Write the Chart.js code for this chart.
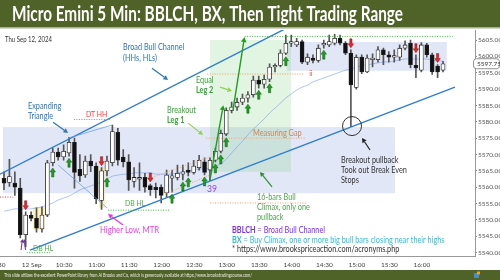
<!DOCTYPE html>
<html>
<head>
<meta charset="utf-8">
<script src="https://cdn.jsdelivr.net/npm/chart.js@4.4.1/dist/chart.umd.min.js"></script>
<style>
  html, body { margin: 0; padding: 0; background: #fff; }
  #wrap { width: 500px; height: 280px; }
</style>
</head>
<body>
<div id="wrap"><canvas id="chart" width="500" height="280"></canvas></div>
<script>
// 5 min bars, 9:30 .. 16:15
const opens = [5562.75, 5561.5, 5561.25, 5559.75, 5545.5, 5551.5, 5550.5, 5547.25, 5551.5, 5567.5,
  5570.75, 5569.25, 5570.5, 5573.75, 5565.5, 5563.75, 5568, 5566.5, 5556, 5565,
  5567.5, 5576.75, 5569.25, 5567.75, 5561.75, 5562.5, 5563, 5560.5, 5560, 5560,
  5558.25, 5562.75, 5563, 5564, 5565.25, 5564.5, 5566, 5567.75, 5565.25, 5568.25,
  5571, 5576.25, 5583.5, 5584.5, 5586, 5587.25, 5588.25, 5592.75, 5591.5, 5593,
  5596.75, 5597.25, 5601, 5604, 5603.5, 5604.5, 5598.25, 5599.5, 5598.75, 5603.5,
  5603.5, 5604, 5605.5, 5604, 5601, 5590.5, 5599.75, 5595.25, 5599, 5599,
  5602, 5600.5, 5599.75, 5599.75, 5602.5, 5604, 5597.25, 5595.75, 5603.5, 5600.5,
  5597, 5595.75];
const highs = [5564.75, 5568.5, 5564.75, 5562.75, 5552.5, 5552.5, 5553.75, 5554, 5568.25, 5572,
  5572, 5573, 5575.25, 5575, 5570, 5569.5, 5570, 5567.5, 5566, 5569.5,
  5579, 5578, 5571.5, 5570, 5566, 5567.5, 5564.25, 5561, 5561.25, 5560.75,
  5565.25, 5565.25, 5566.75, 5566.75, 5567.5, 5568.25, 5569.75, 5569, 5569, 5572,
  5577.5, 5584.25, 5586, 5587.25, 5588.5, 5589.25, 5594, 5594, 5594.25, 5597.75,
  5597.75, 5602, 5606.5, 5606.5, 5605.5, 5605, 5600.75, 5600.5, 5603.5, 5605,
  5606.5, 5606.75, 5606.5, 5604.5, 5602, 5600.5, 5600.5, 5600.5, 5600.75, 5603,
  5602.5, 5601.5, 5602, 5603.5, 5604.75, 5605, 5600.5, 5604.25, 5604, 5601,
  5597.5, 5598.5];
const lows = [5559.25, 5560.25, 5557.5, 5544.5, 5541.75, 5549.75, 5546.25, 5546.25, 5551, 5566.5,
  5568.25, 5568.25, 5569.5, 5559.75, 5561.75, 5563, 5564.75, 5555, 5553.25, 5563.5,
  5566.5, 5566.75, 5566.25, 5559, 5560, 5559, 5558.5, 5557.5, 5556.75, 5555.25,
  5557, 5558.5, 5562.25, 5562.25, 5563.5, 5564, 5565.25, 5563.75, 5562, 5567.75,
  5570.5, 5575.75, 5582.75, 5583.5, 5585.25, 5586, 5587.5, 5590.25, 5590.25, 5592.25,
  5595.25, 5596.75, 5600.5, 5603, 5603, 5597.75, 5597.5, 5598, 5598.25, 5602.5,
  5603, 5603.5, 5603.5, 5600.5, 5578.5, 5590, 5594.75, 5595, 5596.75, 5598.25,
  5597.5, 5598.25, 5598.25, 5598.75, 5602, 5596.5, 5593.5, 5595.25, 5599.75, 5594.5,
  5593.5, 5595.25];
const closes = [5561.25, 5563.25, 5560, 5545.5, 5551.5, 5550.5, 5547.5, 5551.5, 5567.5, 5570.75,
  5569.25, 5571, 5573.75, 5564.5, 5563.5, 5568, 5566.5, 5556.5, 5565, 5568,
  5577, 5568.25, 5567.75, 5562.25, 5563, 5563, 5560, 5559.25, 5559.25, 5557.5,
  5563.75, 5563.5, 5564.25, 5564.75, 5564.5, 5566.5, 5568.25, 5564.5, 5568.25, 5571,
  5576.5, 5583.5, 5584.5, 5586, 5587.25, 5588.25, 5592.75, 5591.5, 5593, 5596.75,
  5597.25, 5601, 5604, 5604.5, 5604.5, 5598.25, 5599.75, 5598.75, 5602.5, 5604,
  5604.5, 5605.5, 5604, 5601, 5591.25, 5599.75, 5595.25, 5599.5, 5599.5, 5602,
  5600.5, 5599.75, 5600.25, 5602.5, 5603.5, 5597.5, 5596.5, 5603.5, 5600.5, 5595.25,
  5595.25, 5597.75];
// moving average line as drawn on the chart
const ema = [5552.7, 5553.0, 5553.4, 5553.4, 5553.4, 5553.4, 5553.7, 5554.0, 5554.6, 5555.2,
  5556.1, 5556.7, 5557.3, 5558.2, 5559.2, 5559.8, 5560.4, 5561.0, 5561.6, 5562.5,
  5563.4, 5563.7, 5564.0, 5564.0, 5564.4, 5564.4, 5564.4, 5564.4, 5564.0, 5564.0,
  5564.0, 5564.0, 5564.4, 5564.7, 5565.0, 5565.3, 5565.6, 5565.6, 5565.9, 5566.5,
  5567.1, 5568.6, 5570.5, 5572.3, 5574.1, 5576.0, 5577.8, 5579.3, 5580.9, 5582.7,
  5584.2, 5585.7, 5587.3, 5588.5, 5589.7, 5590.6, 5591.2, 5592.2, 5592.8, 5593.4,
  5594.0, 5594.6, 5595.2, 5595.8, 5596.1, 5596.7, 5597.1, 5597.4, 5597.7, 5598.0,
  5598.3, 5598.3, 5598.6, 5598.9, 5599.2, 5599.2, 5599.2, 5599.2, 5599.2, 5598.9,
  5598.6, 5598.6];
const buyArrows = [9, 12, 19, 31, 33, 34, 37, 39, 40, 41, 45, 47, 49, 52, 59];
const sellArrows = [4, 18, 27, 64, 76, 80];
const timeLabels = ['9:30', '12 Sep', '10:30', '11:00', '11:30', '12:00', '12:30', '13:00',
  '13:30', '14:00', '14:30', '15:00', '15:30', '16:00'];
const priceTicks = [5540, 5545, 5550, 5555, 5560, 5565, 5570, 5575, 5580, 5585, 5590, 5595, 5600, 5605];

// drawing notes, in bar index / price units
const boxes = [
  { i: [-0.18, 72.14], p: [5578.4, 5558.2], c: 'rgba(165,182,232,0.33)' },
  { i: [52.2, 81.7], p: [5604.4, 5595.6], c: 'rgba(165,182,232,0.33)' },
  { i: [38.0, 52.95], p: [5605, 5564.7], c: 'rgba(140,210,140,0.25)' },
  { i: [5.35, 7.56], p: [5554.0, 5546.9], c: 'rgba(255,232,130,0.55)' },
  { i: [17.5, 18.65], p: [5565.9, 5553.7], c: 'rgba(255,232,130,0.55)' }
];
const lines = [
  { a: [-0.74, 5564.0], b: [52.8, 5609.2], c: '#2e7dd0', w: 1.4 },
  { a: [4.8, 5540.8], b: [83.2, 5590.6], c: '#2e7dd0', w: 1.4 },
  { a: [11.8, 5575.0], b: [19.9, 5579.0], c: '#5a9ae0', w: 0.7 },
  { a: [10.0, 5566.8], b: [19.0, 5553.7], c: '#5a9ae0', w: 0.7 },
  { a: [-0.74, 5557.0], b: [1.7, 5557.0], c: '#e04040', w: 1, d: [1, 1.5] },
  { a: [12.9, 5580.7], b: [19.6, 5580.7], c: '#f07070', w: 1, d: [1, 1.5] },
  { a: [37.3, 5575.0], b: [55.5, 5575.0], c: '#eea070', w: 1, d: [1, 1.5] },
  { a: [37.5, 5594.6], b: [55.5, 5594.6], c: '#eea070', w: 1, d: [1, 1.5] },
  { a: [38.0, 5555.2], b: [55.9, 5555.2], c: '#eea070', w: 1, d: [1, 1.5] },
  { a: [26.9, 5562.7], b: [38.0, 5569.3], c: '#eea070', w: 0.9, d: [1, 1.5] },
  { a: [30.0, 5558.2], b: [38.0, 5563.7], c: '#eea070', w: 0.9, d: [1, 1.5] },
  { a: [44.4, 5606.1], b: [82.8, 5606.1], c: '#3cb43c', w: 1, d: [1, 1.5] },
  { a: [4.2, 5540.0], b: [8.5, 5540.0], c: '#3cb43c', w: 1, d: [1, 1.5] },
  { a: [19.2, 5553.0], b: [30.6, 5553.0], c: '#3cb43c', w: 1, d: [1, 1.5] }
];
const pointers = [
  { a: [38.0, 5562.2], b: [40.46, 5585.1], c: '#1e9e1e', w: 1.4, h: 5 },
  { a: [42.25, 5583.6], b: [44.37, 5605.9], c: '#1e9e1e', w: 1.4, h: 5 },
  { a: [27.3, 5596.4], b: [30.26, 5592.8], c: '#2e75b6', w: 1.2, h: 4.5 },
  { a: [9.04, 5579.9], b: [11.81, 5576.6], c: '#2e75b6', w: 1.2, h: 4.5 },
  { a: [33.95, 5579.6], b: [36.72, 5576.0], c: '#92d050', w: 1.2, h: 4.5 },
  { a: [39.85, 5590.6], b: [42.07, 5589.4], c: '#92d050', w: 1.2, h: 4.5 },
  { a: [49.45, 5560.1], b: [47.23, 5564.7], c: '#2f8f2f', w: 1.2, h: 4.5 },
  { a: [67.53, 5571.4], b: [66.05, 5575.05], c: '#222', w: 1.2, h: 4.5 },
  { a: [21.96, 5548.5], b: [19.19, 5551.8], c: '#ee30e0', w: 1.2, h: 4.5 },
  { a: [3.14, 5540.8], b: [3.41, 5544.2], c: '#7030a0', w: 1, h: 3.5 },
  { a: [3.97, 5540.8], b: [3.69, 5544.2], c: '#7030a0', w: 1, h: 3.5 }
];
const notes = [
  { i: 0.18, p: 5605, c: '#333', s: 7, r: [['Thu Sep 12, 2024']] },
  { i: 21.96, p: 5602.7, c: '#2e75b6', s: 8.5, r: [['Broad Bull Channel']] },
  { i: 21.96, p: 5599.35, c: '#2e75b6', s: 8.5, r: [['(HHs, HLs)']] },
  { i: 4.43, p: 5584.8, c: '#2e75b6', s: 8.5, r: [['Expanding']] },
  { i: 4.43, p: 5581.8, c: '#2e75b6', s: 8.5, r: [['Triangle']] },
  { i: 15.13, p: 5582.4, c: '#ff3b3b', s: 8, r: [['DT HH']] },
  { i: 30.07, p: 5583.6, c: '#3a9f3a', s: 8.5, r: [['Breakout']] },
  { i: 30.07, p: 5580.4, c: '#3a9f3a', s: 8.5, r: [['Leg 1', 1]] },
  { i: 35.42, p: 5592.8, c: '#3a9f3a', s: 8.5, r: [['Equal']] },
  { i: 35.42, p: 5589.7, c: '#3a9f3a', s: 8.5, r: [['Leg 2', 1]] },
  { i: 45.94, p: 5576.4, c: '#d4824e', s: 8.5, r: [['Measuring Gap']] },
  { i: 56.3, p: 5594.9, c: '#e05050', s: 8, r: [['ii']] },
  { i: 37.45, p: 5559.6, c: '#8b3cf0', s: 10, r: [['39']] },
  { i: 46.68, p: 5557.0, c: '#4aa84a', s: 8.5, r: [['16-bars Bull']] },
  { i: 46.68, p: 5553.97, c: '#4aa84a', s: 8.5, r: [['Climax, only one']] },
  { i: 46.68, p: 5550.9, c: '#4aa84a', s: 8.5, r: [['pullback']] },
  { i: 62.18, p: 5568.3, c: '#333', s: 8.5, r: [['Breakout pullback']] },
  { i: 62.18, p: 5565.3, c: '#333', s: 8.5, r: [['Took out Break Even']] },
  { i: 62.18, p: 5562.2, c: '#333', s: 8.5, r: [['Stops']] },
  { i: 42.07, p: 5546.9, c: '#7a2ef2', s: 8.5, r: [['BBLCH', 1], [' = Broad Bull Channel']] },
  { i: 42.07, p: 5543.9, c: '#3bb8cc', s: 8.5, r: [['BX', 1], [' = Buy Climax, one or more big bull bars closing near their highs']] },
  { i: 42.07, p: 5541.0, c: '#333', s: 8.5, r: [['* https://www.brookspriceaction.com/acronyms.php']] },
  { i: 17.71, p: 5546.9, c: '#ec3fe0', s: 9, r: [['Higher Low, MTR']] },
  { i: 5.35, p: 5541.4, c: '#4aa84a', s: 8, r: [['DB HL']] },
  { i: 22.32, p: 5555.0, c: '#4aa84a', s: 8, r: [['DB HL']] }
];
const circleAt = { i: 64.21, p: 5578.7, r: 9.5 };

const FONT = 'Lato';
Chart.defaults.font.family = FONT;

function pt(chart, i, p) {
  return [chart.scales.x.getPixelForValue(i), chart.scales.y.getPixelForValue(p)];
}

function drawPointer(ctx, x1, y1, x2, y2, color, w, head) {
  const a = Math.atan2(y2 - y1, x2 - x1);
  const bx = x2 - head * Math.cos(a), by = y2 - head * Math.sin(a);
  ctx.strokeStyle = color; ctx.fillStyle = color; ctx.lineWidth = w;
  ctx.beginPath(); ctx.moveTo(x1, y1); ctx.lineTo(bx, by); ctx.stroke();
  ctx.beginPath(); ctx.moveTo(x2, y2);
  ctx.lineTo(bx + head * 0.55 * Math.sin(a), by - head * 0.55 * Math.cos(a));
  ctx.lineTo(bx - head * 0.55 * Math.sin(a), by + head * 0.55 * Math.cos(a));
  ctx.closePath(); ctx.fill();
}

function signalArrow(ctx, x, tip, dir, fill, edge) {
  // dir = -1 points up (tip on top), 1 points down
  const hl = 4, len = 9, hw = 2.7, sw = 1.1;
  ctx.beginPath();
  ctx.moveTo(x, tip);
  ctx.lineTo(x + hw, tip - dir * hl);
  ctx.lineTo(x + sw, tip - dir * hl);
  ctx.lineTo(x + sw, tip - dir * len);
  ctx.lineTo(x - sw, tip - dir * len);
  ctx.lineTo(x - sw, tip - dir * hl);
  ctx.lineTo(x - hw, tip - dir * hl);
  ctx.closePath();
  ctx.fillStyle = fill; ctx.fill();
  ctx.strokeStyle = edge; ctx.lineWidth = 0.5; ctx.stroke();
}

const annotate = {
  id: 'annotate',
  beforeDraw(chart) {
    const ctx = chart.ctx;
    ctx.save();
    ctx.fillStyle = '#fff';
    ctx.fillRect(0, 0, chart.width, chart.height);
    ctx.fillStyle = '#4f6228';
    ctx.fillRect(0, 0, chart.width, 27.5);
    ctx.fillRect(0, 270, chart.width, 10);
    ctx.strokeStyle = '#cfd4c4'; ctx.lineWidth = 1;
    ctx.beginPath(); ctx.moveTo(0, 28.5); ctx.lineTo(chart.width, 28.5); ctx.stroke();
    // title fitted to its width in the picture
    const title = 'Micro Emini 5 Min: BBLCH, BX, Then Tight Trading Range';
    ctx.font = 'bold 20px ' + FONT;
    const tw = ctx.measureText(title).width;
    ctx.save();
    ctx.translate(12, 15);
    ctx.scale(391 / tw, 1);
    ctx.fillStyle = '#fff'; ctx.textBaseline = 'middle';
    ctx.fillText(title, 0, 0);
    ctx.restore();
    const foot = 'This slide utilizes the excellent PowerPoint library from Al Brooks and Co, which is generously available at https://www.brookstradingcourse.com/';
    ctx.font = '5px ' + FONT;
    const fw = ctx.measureText(foot).width;
    ctx.save();
    ctx.translate(4, 275.5);
    ctx.scale(248 / fw, 1);
    ctx.fillStyle = '#e8ecdf'; ctx.textBaseline = 'middle';
    ctx.fillText(foot, 0, 0);
    ctx.restore();
    // small logo bottom right
    ctx.fillStyle = '#3a8fd8'; ctx.fillRect(474, 273, 5, 5);
    ctx.fillStyle = '#f0a030'; ctx.fillRect(477, 271.5, 3, 3);
    ctx.restore();
  },
  beforeDatasetsDraw(chart) {
    const ctx = chart.ctx, ca = chart.chartArea;
    ctx.save();
    ctx.beginPath(); ctx.rect(ca.left, ca.top, ca.right - ca.left, ca.bottom - ca.top); ctx.clip();
    boxes.forEach(b => {
      const [x1, y1] = pt(chart, b.i[0], b.p[0]);
      const [x2, y2] = pt(chart, b.i[1], b.p[1]);
      ctx.fillStyle = b.c;
      ctx.fillRect(x1, y1, x2 - x1, y2 - y1);
    });
    ctx.restore();
  },
  afterDatasetsDraw(chart) {
    const ctx = chart.ctx, ca = chart.chartArea;
    ctx.save();
    ctx.beginPath(); ctx.rect(ca.left, ca.top, ca.right - ca.left, ca.bottom - ca.top); ctx.clip();
    lines.forEach(l => {
      const [x1, y1] = pt(chart, l.a[0], l.a[1]);
      const [x2, y2] = pt(chart, l.b[0], l.b[1]);
      ctx.strokeStyle = l.c; ctx.lineWidth = l.w;
      ctx.setLineDash(l.d || []);
      ctx.beginPath(); ctx.moveTo(x1, y1); ctx.lineTo(x2, y2); ctx.stroke();
    });
    ctx.setLineDash([]);
    pointers.forEach(a => {
      const [x1, y1] = pt(chart, a.a[0], a.a[1]);
      const [x2, y2] = pt(chart, a.b[0], a.b[1]);
      drawPointer(ctx, x1, y1, x2, y2, a.c, a.w, a.h);
    });
    const [cx, cy] = pt(chart, circleAt.i, circleAt.p);
    ctx.strokeStyle = '#333'; ctx.lineWidth = 1;
    ctx.beginPath(); ctx.arc(cx, cy, circleAt.r, 0, Math.PI * 2); ctx.stroke();
    buyArrows.forEach(i => {
      const [x, y] = pt(chart, i, lows[i]);
      signalArrow(ctx, x, y + 2, -1, '#1f9f1f', '#0c5a0c');
    });
    sellArrows.forEach(i => {
      const [x, y] = pt(chart, i, highs[i]);
      signalArrow(ctx, x, y - 2, 1, '#e8262a', '#8a1010');
    });
    ctx.restore();

    ctx.save();
    ctx.textBaseline = 'middle';
    notes.forEach(n => {
      const [x, y] = pt(chart, n.i, n.p);
      ctx.save();
      ctx.translate(x, y);
      ctx.scale(0.86, 1);
      ctx.fillStyle = n.c;
      let off = 0;
      n.r.forEach(([t, b]) => {
        ctx.font = (b ? 'bold ' : '') + n.s + 'px ' + FONT;
        ctx.fillText(t, off, 0);
        off += ctx.measureText(t).width;
      });
      ctx.restore();
    });
    // last price tag on the axis
    const last = closes[closes.length - 1];
    const ly = chart.scales.y.getPixelForValue(last);
    ctx.fillStyle = '#fff'; ctx.strokeStyle = '#777'; ctx.lineWidth = 0.8;
    ctx.beginPath(); ctx.roundRect(473.5, ly - 5, 26, 10, 3); ctx.fill(); ctx.stroke();
    ctx.fillStyle = '#333'; ctx.font = '6.5px ' + FONT;
    ctx.fillText(last.toFixed(2), 477, ly + 0.5);
    ctx.restore();
  }
};

const idx = opens.map((_, i) => i);

new Chart(document.getElementById('chart'), {
  type: 'bar',
  data: {
    datasets: [
      {
        label: 'body',
        data: idx.map(i => ({ x: i, y: [opens[i], closes[i]] })),
        backgroundColor: idx.map(i => closes[i] >= opens[i] ? '#ffffff' : '#111111'),
        borderColor: '#222',
        borderWidth: 0.8,
        borderSkipped: false,
        barThickness: 4,
        grouped: false,
        order: 1
      },
      {
        label: 'wick',
        data: idx.map(i => ({ x: i, y: [lows[i], highs[i]] })),
        backgroundColor: '#555',
        borderWidth: 0,
        barThickness: 1,
        grouped: false,
        order: 2
      },
      {
        type: 'line',
        label: 'ema',
        data: idx.map(i => ({ x: i, y: ema[i] })),
        borderColor: 'rgba(110,145,230,0.6)',
        borderWidth: 0.9,
        pointRadius: 0,
        tension: 0.3,
        order: 3
      }
    ]
  },
  options: {
    responsive: false,
    animation: false,
    layout: { padding: { top: 30, left: 0, right: 0, bottom: 9.3 } },
    plugins: { legend: { display: false }, tooltip: { enabled: false } },
    scales: {
      x: {
        type: 'linear',
        min: -0.738,
        max: 86.9,
        offset: false,
        grid: { display: false, drawTicks: false },
        border: { display: true, color: '#999' },
        ticks: {
          autoSkip: false, maxRotation: 0, minRotation: 0,
          font: { size: 6.5 }, color: '#444', padding: 4,
          callback: (v, i) => timeLabels[i]
        },
        afterBuildTicks: s => { s.ticks = timeLabels.map((_, k) => ({ value: 6 * k - 0.9 })); },
        afterFit: s => { s.height = 14; s.paddingLeft = 0; s.paddingRight = 0; }
      },
      y: {
        type: 'linear',
        position: 'right',
        min: 5538.78,
        max: 5608.06,
        grid: { drawOnChartArea: false, drawTicks: true, tickLength: 2, color: '#888' },
        border: { display: true, color: '#999' },
        ticks: { font: { size: 6.5 }, color: '#555', padding: 1, callback: v => v.toFixed(2) },
        afterBuildTicks: s => { s.ticks = priceTicks.map(v => ({ value: v })); },
        afterFit: s => { s.width = 25; }
      }
    }
  },
  plugins: [annotate]
});
</script>
</body>
</html>
